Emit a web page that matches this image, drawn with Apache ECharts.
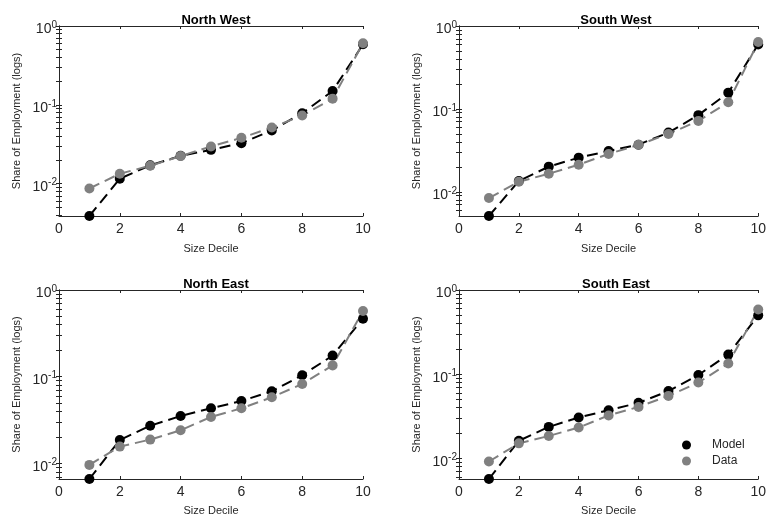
<!DOCTYPE html>
<html>
<head>
<meta charset="utf-8">
<script src="https://cdn.jsdelivr.net/npm/echarts@6/dist/echarts.min.js"></script>
<style>
html, body { margin: 0; padding: 0; background: #fff; }
#main { width: 769px; height: 519px; }
</style>
</head>
<body>
<div id="main"></div>
<script>
// data
var deciles = [1, 2, 3, 4, 5, 6, 7, 8, 9, 10];
var titles = ['North West', 'South West', 'North East', 'South East'];
var nwModel = [0.0039, 0.0116, 0.0171, 0.0226, 0.0269, 0.0327, 0.0473, 0.0785, 0.150, 0.586];
var nwData  = [0.0087, 0.0134, 0.0169, 0.0224, 0.0297, 0.0382, 0.0516, 0.0733, 0.120, 0.604];
var swModel = [0.0051, 0.0135, 0.0201, 0.0258, 0.0310, 0.0370, 0.0518, 0.0840, 0.157, 0.600];
var swData  = [0.0084, 0.0132, 0.0165, 0.0212, 0.0286, 0.0368, 0.0499, 0.0716, 0.120, 0.640];
var neModel = [0.0066, 0.0186, 0.0272, 0.0352, 0.0432, 0.0524, 0.0678, 0.104, 0.175, 0.467];
var neData  = [0.0096, 0.0156, 0.0188, 0.0241, 0.0343, 0.0432, 0.0578, 0.0824, 0.135, 0.573];
var seModel = [0.0057, 0.0162, 0.0237, 0.0306, 0.0374, 0.0457, 0.0630, 0.098, 0.171, 0.500];
var seData  = [0.0092, 0.0151, 0.0185, 0.0233, 0.0324, 0.0409, 0.0553, 0.0796, 0.134, 0.586];
var models = [nwModel, swModel, neModel, seModel];
var datas = [nwData, swData, neData, seData];
// log ticks (major + minor) for the y axes
var yTicks = [0.004, 0.005, 0.006, 0.007, 0.008, 0.009, 0.01,
	0.02, 0.03, 0.04, 0.05, 0.06, 0.07, 0.08, 0.09, 0.1,
	0.2, 0.3, 0.4, 0.5, 0.6, 0.7, 0.8, 0.9, 1];

var font = 'Liberation Sans, Arial, Helvetica, sans-serif';
var axisCol = '#262626';
var grids = [
	{left: 59, top: 26, width: 304, height: 190},
	{left: 459, top: 26, width: 304, height: 190},
	{left: 59, top: 290, width: 304, height: 189},
	{left: 459, top: 290, width: 304, height: 189}
];

function pair(x) {
	return deciles.map(function (d, i) { return [d, x[i]]; });
}

function powLabel(v) {
	var e = Math.log10(v);
	var r = Math.round(e);
	if (Math.abs(e - r) > 1e-6) return '';
	return '{b|10}{s|' + r + '}';
}

var title = [], xAxis = [], yAxis = [], series = [];
for (var i = 0; i < 4; i++) {
	var g = grids[i];
	var yMin = models[i][0];
	var ticks = yTicks.filter(function (t) { return t > yMin; });
	title.push({
		text: titles[i], left: g.left + g.width / 2, top: g.top - 17, textAlign: 'center',
		textStyle: {fontFamily: font, fontSize: 13, fontWeight: 'bold', color: '#000'}
	});
	// bottom x
	xAxis.push({
		gridIndex: i, type: 'value', min: 0, max: 10, interval: 2, position: 'bottom',
		name: 'Size Decile', nameLocation: 'middle', nameGap: i < 2 ? 27 : 26,
		nameTextStyle: {fontFamily: font, fontSize: 11, color: axisCol},
		axisLine: {lineStyle: {color: axisCol, width: 1}},
		axisTick: {inside: true, length: 3, lineStyle: {color: axisCol}},
		axisLabel: {fontFamily: font, fontSize: 14, color: axisCol, margin: 6},
		splitLine: {show: false}
	});
	// top x (box)
	xAxis.push({
		gridIndex: i, type: 'value', min: 0, max: 10, interval: 2, position: 'top',
		axisLine: {lineStyle: {color: axisCol, width: 1}},
		axisTick: {inside: true, length: 3, lineStyle: {color: axisCol}},
		axisLabel: {show: false}, splitLine: {show: false}
	});
	// left y
	yAxis.push({
		gridIndex: i, type: 'log', logBase: 10, min: yMin, max: 1, position: 'left',
		name: 'Share of Employment (logs)', nameLocation: 'middle', nameGap: 37,
		nameTextStyle: {fontFamily: font, fontSize: 11, color: axisCol},
		axisLine: {show: true, lineStyle: {color: axisCol, width: 1}},
		axisTick: {inside: true, length: 3, customValues: ticks, lineStyle: {color: axisCol}},
		axisLabel: {
			margin: 2, showMinLabel: false, formatter: powLabel, padding: [7, 0, 0, 0],
			rich: {
				b: {fontFamily: font, fontSize: 14, color: axisCol},
				s: {fontFamily: font, fontSize: 10, color: axisCol, padding: [0, 0, 9, 0]}
			}
		},
		splitLine: {show: false}
	});
	// right y (box)
	yAxis.push({
		gridIndex: i, type: 'log', logBase: 10, min: yMin, max: 1, position: 'right',
		axisLine: {show: true, lineStyle: {color: axisCol, width: 1}},
		axisTick: {inside: true, length: 3, customValues: ticks, lineStyle: {color: axisCol}},
		axisLabel: {show: false}, splitLine: {show: false}
	});
	series.push({
		name: 'Model', type: 'line', xAxisIndex: i * 2, yAxisIndex: i * 2,
		data: pair(models[i]), symbol: 'circle', symbolSize: 10, clip: false,
		itemStyle: {color: '#000'},
		lineStyle: {color: '#000', width: 2, type: [11, 6]},
		emphasis: {disabled: true}
	});
	series.push({
		name: 'Data', type: 'line', xAxisIndex: i * 2, yAxisIndex: i * 2,
		data: pair(datas[i]), symbol: 'circle', symbolSize: 10, clip: false,
		itemStyle: {color: '#808080'},
		lineStyle: {color: '#808080', width: 2, type: [11, 6]},
		emphasis: {disabled: true}
	});
}

var chart = echarts.init(document.getElementById('main'));
var option = {
	backgroundColor: '#fff',
	animation: false,
	title: title,
	grid: grids,
	xAxis: xAxis,
	yAxis: yAxis,
	legend: {
		data: ['Model', 'Data'], orient: 'vertical', left: 677, top: 434,
		icon: 'circle', itemWidth: 9, itemHeight: 9, itemGap: 4,
		textStyle: {fontFamily: font, fontSize: 12, color: axisCol, lineHeight: 12, padding: [0, 0, 0, 16]}
	},
	series: series
};
chart.setOption(option);
</script>
</body>
</html>
